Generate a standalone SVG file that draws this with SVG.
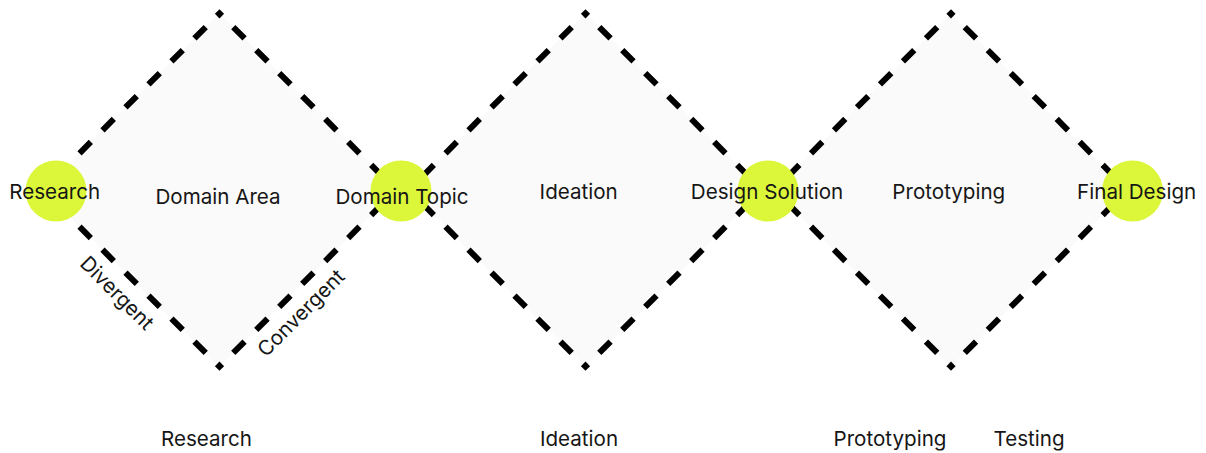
<svg xmlns="http://www.w3.org/2000/svg" width="1206" height="453" viewBox="0 0 1206 453">
<defs>
<path id="vdot" d="M0,-4.6 L4.6,0 L0,4.6 L-4.6,0 Z" fill="#000"/>
</defs>
<style>
.bg{fill:#ffffff}
.dfill{fill:#fafafa;stroke:none}
.edge{stroke:#000;stroke-width:6;stroke-dasharray:16 16.5;stroke-dashoffset:16;fill:none}
.dot{fill:#dcf63a}
.lbl{font-family:Inter,"Noto Sans",sans-serif;font-size:20.6px;fill:#161616;text-anchor:middle}
</style>
<rect class="bg" x="0" y="0" width="1206" height="453"/>
<g id="diamond-1">
<polygon class="dfill" points="219.5,13.3 396.2,190 219.5,366.7 42.8,190"/>
<line class="edge" x1="217.4" y1="15.4" x2="42.8" y2="190"/>
<line class="edge" x1="221.6" y1="15.4" x2="396.2" y2="190"/>
<line class="edge" x1="217.4" y1="364.6" x2="42.8" y2="190"/>
<line class="edge" x1="221.6" y1="364.6" x2="396.2" y2="190"/>
<use href="#vdot" x="219.5" y="13.8"/>
<use href="#vdot" x="219.5" y="366.2"/>
</g>
<g id="diamond-2">
<polygon class="dfill" points="585.5,13.3 762.2,190 585.5,366.7 408.8,190"/>
<line class="edge" x1="583.4" y1="15.4" x2="408.8" y2="190"/>
<line class="edge" x1="587.6" y1="15.4" x2="762.2" y2="190"/>
<line class="edge" x1="583.4" y1="364.6" x2="408.8" y2="190"/>
<line class="edge" x1="587.6" y1="364.6" x2="762.2" y2="190"/>
<use href="#vdot" x="585.5" y="13.8"/>
<use href="#vdot" x="585.5" y="366.2"/>
</g>
<g id="diamond-3">
<polygon class="dfill" points="951,13.3 1127.7,190 951,366.7 774.3,190"/>
<line class="edge" x1="948.9" y1="15.4" x2="774.3" y2="190"/>
<line class="edge" x1="953.1" y1="15.4" x2="1127.7" y2="190"/>
<line class="edge" x1="948.9" y1="364.6" x2="774.3" y2="190"/>
<line class="edge" x1="953.1" y1="364.6" x2="1127.7" y2="190"/>
<use href="#vdot" x="951" y="13.8"/>
<use href="#vdot" x="951" y="366.2"/>
</g>
<g id="connectors"></g>
<g id="node-research">
<circle class="dot" cx="56" cy="191" r="30.5"/>
<text class="lbl" x="54.7" y="198.5">Research</text>
</g>
<g id="node-domain-topic">
<circle class="dot" cx="401" cy="191" r="30.5"/>
<text class="lbl" x="402" y="203.5">Domain Topic</text>
</g>
<g id="node-design-solution">
<circle class="dot" cx="768" cy="191" r="30.5"/>
<text class="lbl" x="767" y="198.7">Design Solution</text>
</g>
<g id="node-final-design">
<circle class="dot" cx="1132.5" cy="191" r="30.5"/>
<text class="lbl" x="1136.7" y="198.7">Final Design</text>
</g>
<g id="phase-labels">
<text class="lbl" x="218" y="203.5">Domain Area</text>
<text class="lbl" x="578.7" y="198.7">Ideation</text>
<text class="lbl" x="948.8" y="198.7">Prototyping</text>
<text class="lbl" transform="translate(112,298) rotate(45)" x="0" y="0">Divergent</text>
<text class="lbl" transform="translate(306,318) rotate(-45)" x="0" y="0">Convergent</text>
</g>
<g id="bottom-labels">
<text class="lbl" x="206.5" y="446">Research</text>
<text class="lbl" x="579" y="446">Ideation</text>
<text class="lbl" x="890" y="446">Prototyping</text>
<text class="lbl" x="1029" y="446">Testing</text>
</g>
</svg>
